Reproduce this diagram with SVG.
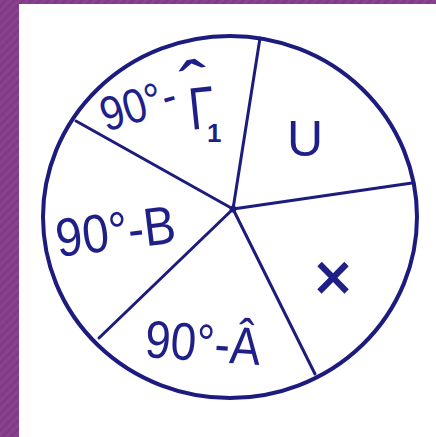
<svg xmlns="http://www.w3.org/2000/svg" width="436" height="437" viewBox="0 0 436 437">
  <defs>
    <pattern id="stripes" width="6" height="6" patternUnits="userSpaceOnUse" patternTransform="rotate(45)">
      <rect width="6" height="6" fill="#803a87"/>
      <rect width="3" height="6" fill="#88428e"/>
    </pattern>
    <style>
      .ink { fill: none; stroke: #1c1b7e; stroke-linecap: round; stroke-linejoin: round; }
      .lbl { font-family: "Liberation Sans", "DejaVu Sans", sans-serif; fill: #1f1f88; }
    </style>
  </defs>
  <rect x="0" y="0" width="436" height="437" fill="url(#stripes)"/>
  <rect x="19" y="4" width="417" height="433" fill="#ffffff"/>

  <g id="circle">
    <ellipse class="ink" cx="230" cy="217" rx="187" ry="181" stroke-width="4"/>
  </g>

  <g id="connectors">
    <line class="ink" x1="233" y1="209" x2="260" y2="38" stroke-width="3"/>
    <line class="ink" x1="233" y1="209" x2="412" y2="183" stroke-width="3"/>
    <line class="ink" x1="233" y1="209" x2="315" y2="374" stroke-width="3"/>
    <line class="ink" x1="233" y1="209" x2="99" y2="338" stroke-width="3"/>
    <line class="ink" x1="233" y1="209" x2="76" y2="121" stroke-width="3"/>
    <circle cx="233" cy="209" r="3.5" fill="#1c1b7e"/>
  </g>

  <g id="sector-gamma">
    <text class="lbl" font-size="44" transform="translate(106,132) rotate(-17) scale(0.95,1.1)">90°-</text>
    <text class="lbl" font-size="60" transform="translate(191,130) rotate(-6) scale(0.78,1)">Γ</text>
    <text class="lbl" font-size="70" transform="translate(186,112) rotate(-10) scale(1.2,1)">ˆ</text>
    <text class="lbl" font-size="26" font-weight="bold" x="207" y="142">1</text>
  </g>

  <g id="sector-u">
    <text class="lbl" font-size="50" x="305" y="156" text-anchor="middle">U</text>
  </g>

  <g id="sector-x">
    <text class="lbl" font-size="66" x="333" y="300" text-anchor="middle" stroke="#1f1f88" stroke-width="1.5">×</text>
  </g>

  <g id="sector-b">
    <text class="lbl" font-size="47" transform="translate(58,257) rotate(-7) scale(1.02,1.15)">90°-B</text>
  </g>

  <g id="sector-a">
    <text class="lbl" font-size="46" transform="translate(144,357) rotate(4) scale(1,1.15)">90°-Â</text>
  </g>
</svg>
